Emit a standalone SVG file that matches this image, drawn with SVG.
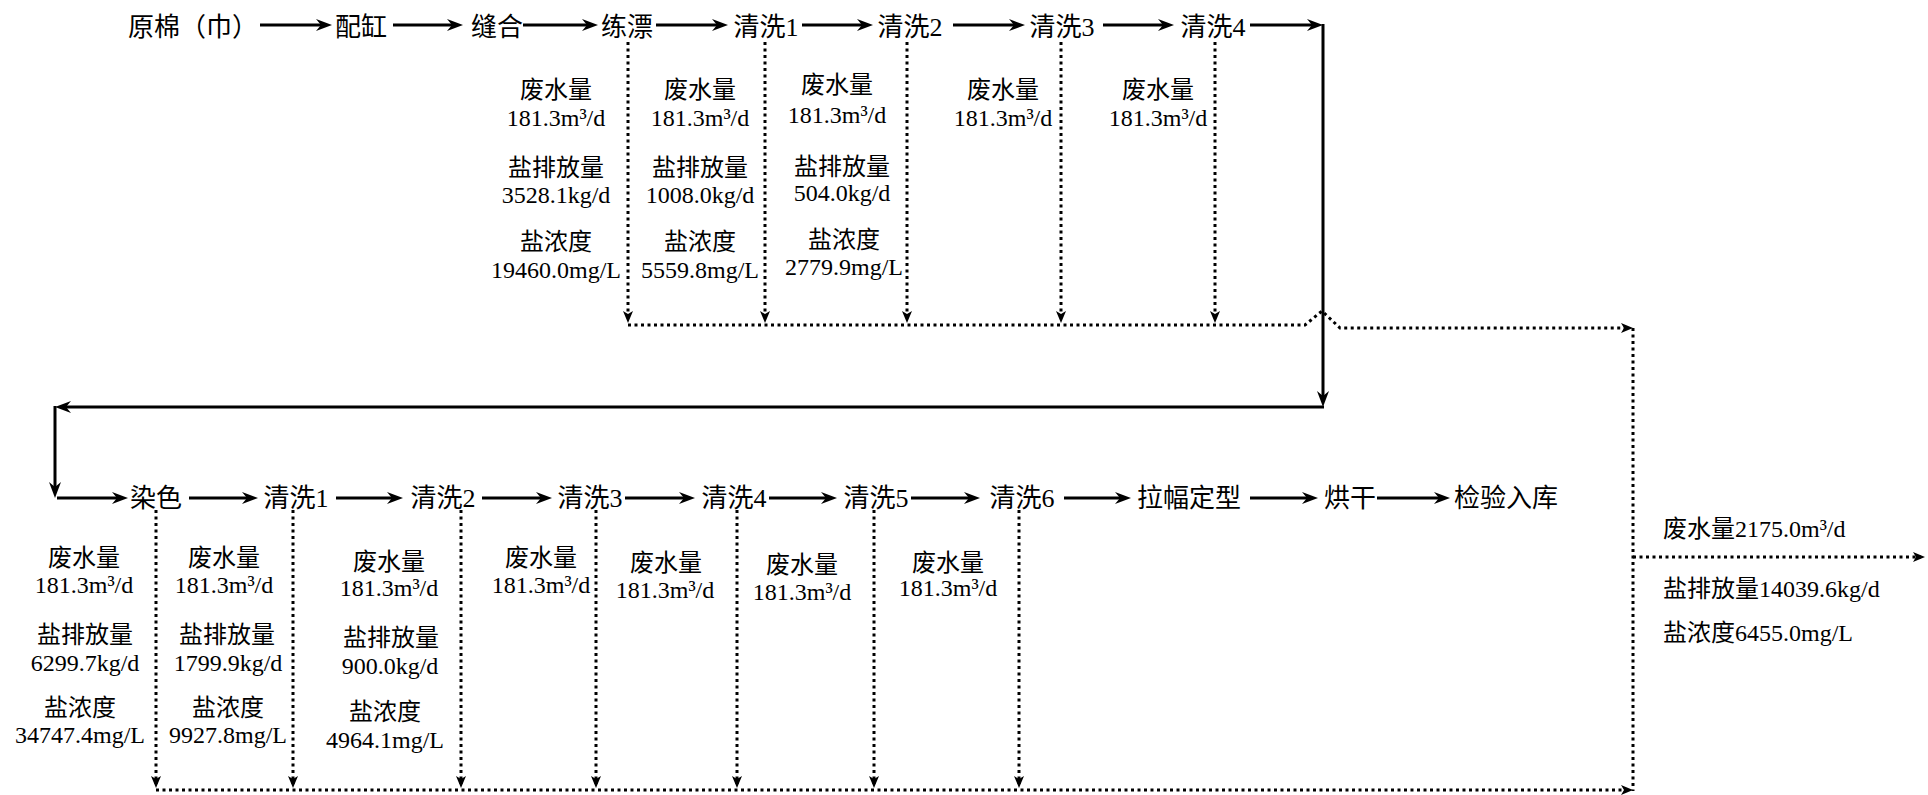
<svg xmlns="http://www.w3.org/2000/svg" width="1928" height="795" viewBox="0 0 1928 795">
<style>
text{font-family:"Liberation Serif","Noto Sans CJK SC",serif;fill:#000}
.n{font-size:26px;text-anchor:middle}
.a{font-size:24px;text-anchor:middle}
.o{font-size:24px;text-anchor:start}
.s{fill:none;stroke:#000;stroke-width:3;marker-end:url(#ah)}
.sl{fill:none;stroke:#000;stroke-width:3}
.d{fill:none;stroke:#000;stroke-width:3;stroke-dasharray:3 3.5;marker-end:url(#dh)}
.dl{fill:none;stroke:#000;stroke-width:3;stroke-dasharray:3 3.5}
</style>
<defs>
<marker id="ah" markerUnits="userSpaceOnUse" markerWidth="16" markerHeight="12" refX="10" refY="6" orient="auto"><path d="M0,0 L16,6 L0,12 L5,6 z" fill="#000"/></marker>
<marker id="dh" markerUnits="userSpaceOnUse" markerWidth="12" markerHeight="10" refX="8" refY="5" orient="auto"><path d="M0,0 L12,5 L0,10 L3,5 z" fill="#000"/></marker>
</defs>
<rect width="1928" height="795" fill="#fff"/>

<g id="connectors">
<line class="s" x1="260" y1="25" x2="326" y2="25"/>
<line class="s" x1="393" y1="25" x2="457" y2="25"/>
<line class="s" x1="523" y1="25" x2="592" y2="25"/>
<line class="s" x1="656" y1="25" x2="722" y2="25"/>
<line class="s" x1="802" y1="25" x2="867" y2="25"/>
<line class="s" x1="953" y1="25" x2="1019" y2="25"/>
<line class="s" x1="1103" y1="25" x2="1168" y2="25"/>
<line class="s" x1="1250" y1="25" x2="1317" y2="25"/>
<line class="s" x1="1323" y1="24" x2="1323" y2="401"/>
<line class="s" x1="1324" y1="407" x2="61" y2="407"/>
<line class="s" x1="55" y1="406" x2="55" y2="492"/>
<line class="s" x1="57" y1="498" x2="122" y2="498"/>
<line class="s" x1="189" y1="498" x2="252" y2="498"/>
<line class="s" x1="336" y1="498" x2="397" y2="498"/>
<line class="s" x1="482" y1="498" x2="546" y2="498"/>
<line class="s" x1="625" y1="498" x2="689" y2="498"/>
<line class="s" x1="769" y1="498" x2="831" y2="498"/>
<line class="s" x1="911" y1="498" x2="974" y2="498"/>
<line class="s" x1="1064" y1="498" x2="1125" y2="498"/>
<line class="s" x1="1250" y1="498" x2="1312" y2="498"/>
<line class="s" x1="1377" y1="498" x2="1444" y2="498"/>

<line class="d" x1="628" y1="42" x2="628" y2="319"/>
<line class="d" x1="765" y1="42" x2="765" y2="319"/>
<line class="d" x1="907" y1="42" x2="907" y2="319"/>
<line class="d" x1="1061" y1="42" x2="1061" y2="319"/>
<line class="d" x1="1215" y1="42" x2="1215" y2="319"/>
<path class="d" d="M628,325 L1305,325 L1322,311 L1340,328 L1629,328"/>
<path class="dl" d="M1633,328 L1633,791"/>
<path class="d" d="M156,790 L1629,790"/>
<line class="d" x1="156" y1="510" x2="156" y2="784"/>
<line class="d" x1="293" y1="510" x2="293" y2="784"/>
<line class="d" x1="461" y1="510" x2="461" y2="784"/>
<line class="d" x1="596" y1="510" x2="596" y2="784"/>
<line class="d" x1="737" y1="510" x2="737" y2="784"/>
<line class="d" x1="874" y1="510" x2="874" y2="784"/>
<line class="d" x1="1019" y1="510" x2="1019" y2="784"/>
<path class="d" d="M1633,557 L1921,557"/>
</g>

<g id="n-yuanmian"><text class="n" x="193" y="36">原棉（巾）</text></g>
<g id="n-peigang"><text class="n" x="361" y="36">配缸</text></g>
<g id="n-fenghe"><text class="n" x="497" y="36">缝合</text></g>
<g id="n-lianpiao"><text class="n" x="627" y="36">练漂</text></g>
<g id="n-t-qx1"><text class="n" x="766" y="36">清洗1</text></g>
<g id="n-t-qx2"><text class="n" x="910" y="36">清洗2</text></g>
<g id="n-t-qx3"><text class="n" x="1062" y="36">清洗3</text></g>
<g id="n-t-qx4"><text class="n" x="1213" y="36">清洗4</text></g>

<g id="n-ranse"><text class="n" x="156" y="507">染色</text></g>
<g id="n-b-qx1"><text class="n" x="296" y="507">清洗1</text></g>
<g id="n-b-qx2"><text class="n" x="443" y="507">清洗2</text></g>
<g id="n-b-qx3"><text class="n" x="590" y="507">清洗3</text></g>
<g id="n-b-qx4"><text class="n" x="734" y="507">清洗4</text></g>
<g id="n-b-qx5"><text class="n" x="876" y="507">清洗5</text></g>
<g id="n-b-qx6"><text class="n" x="1022" y="507">清洗6</text></g>
<g id="n-lafu"><text class="n" x="1189" y="507">拉幅定型</text></g>
<g id="n-honggan"><text class="n" x="1350" y="507">烘干</text></g>
<g id="n-jianyan"><text class="n" x="1506" y="507">检验入库</text></g>

<g id="ann-t1">
<text class="a" x="556" y="98">废水量</text>
<text class="a" x="556" y="126">181.3m³/d</text>
<text class="a" x="556" y="176">盐排放量</text>
<text class="a" x="556" y="203">3528.1kg/d</text>
<text class="a" x="556" y="250">盐浓度</text>
<text class="a" x="556" y="278">19460.0mg/L</text>
</g>
<g id="ann-t2">
<text class="a" x="700" y="98">废水量</text>
<text class="a" x="700" y="126">181.3m³/d</text>
<text class="a" x="700" y="176">盐排放量</text>
<text class="a" x="700" y="203">1008.0kg/d</text>
<text class="a" x="700" y="250">盐浓度</text>
<text class="a" x="700" y="278">5559.8mg/L</text>
</g>
<g id="ann-t3">
<text class="a" x="837" y="93">废水量</text>
<text class="a" x="837" y="123">181.3m³/d</text>
<text class="a" x="842" y="175">盐排放量</text>
<text class="a" x="842" y="201">504.0kg/d</text>
<text class="a" x="844" y="248">盐浓度</text>
<text class="a" x="844" y="275">2779.9mg/L</text>
</g>
<g id="ann-t4">
<text class="a" x="1003" y="98">废水量</text>
<text class="a" x="1003" y="126">181.3m³/d</text>
</g>
<g id="ann-t5">
<text class="a" x="1158" y="98">废水量</text>
<text class="a" x="1158" y="126">181.3m³/d</text>
</g>

<g id="ann-b1">
<text class="a" x="84" y="566">废水量</text>
<text class="a" x="84" y="593">181.3m³/d</text>
<text class="a" x="85" y="643">盐排放量</text>
<text class="a" x="85" y="671">6299.7kg/d</text>
<text class="a" x="80" y="716">盐浓度</text>
<text class="a" x="80" y="743">34747.4mg/L</text>
</g>
<g id="ann-b2">
<text class="a" x="224" y="566">废水量</text>
<text class="a" x="224" y="593">181.3m³/d</text>
<text class="a" x="227" y="643">盐排放量</text>
<text class="a" x="228" y="671">1799.9kg/d</text>
<text class="a" x="228" y="716">盐浓度</text>
<text class="a" x="228" y="743">9927.8mg/L</text>
</g>
<g id="ann-b3">
<text class="a" x="389" y="570">废水量</text>
<text class="a" x="389" y="596">181.3m³/d</text>
<text class="a" x="391" y="646">盐排放量</text>
<text class="a" x="390" y="674">900.0kg/d</text>
<text class="a" x="385" y="720">盐浓度</text>
<text class="a" x="385" y="748">4964.1mg/L</text>
</g>
<g id="ann-b4">
<text class="a" x="541" y="566">废水量</text>
<text class="a" x="541" y="593">181.3m³/d</text>
</g>
<g id="ann-b5">
<text class="a" x="666" y="571">废水量</text>
<text class="a" x="665" y="598">181.3m³/d</text>
</g>
<g id="ann-b6">
<text class="a" x="802" y="573">废水量</text>
<text class="a" x="802" y="600">181.3m³/d</text>
</g>
<g id="ann-b7">
<text class="a" x="948" y="571">废水量</text>
<text class="a" x="948" y="596">181.3m³/d</text>
</g>

<g id="ann-out">
<text class="o" x="1663" y="537">废水量2175.0m³/d</text>
<text class="o" x="1663" y="597">盐排放量14039.6kg/d</text>
<text class="o" x="1663" y="641">盐浓度6455.0mg/L</text>
</g>
</svg>
